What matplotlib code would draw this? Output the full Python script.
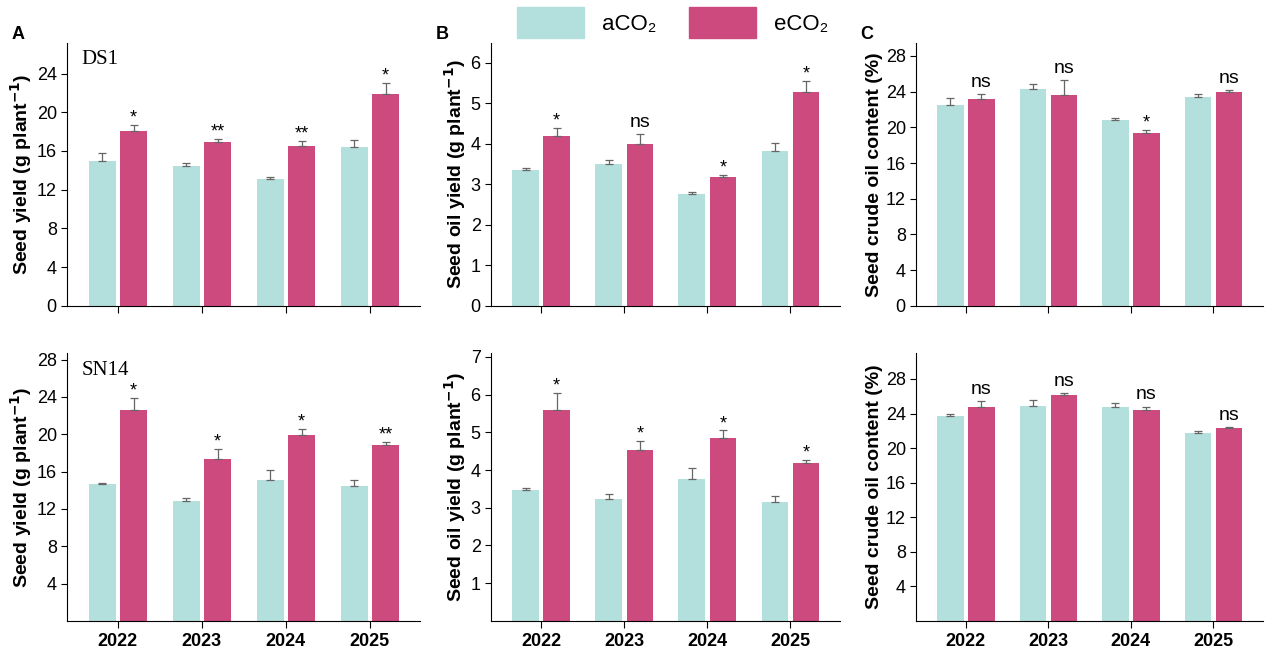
import matplotlib.pyplot as plt
import numpy as np
from matplotlib.patches import Patch

plt.rcParams['font.family'] = ['Liberation Sans', 'DejaVu Sans']

years = ['2022', '2023', '2024', '2025']
c_a = '#b3dfdc'
c_e = '#cd4a7f'

# top row (DS1)
yield_a_ds1 = [15.0, 14.4, 13.1, 16.4]
yield_a_ds1_err = [0.8, 0.4, 0.25, 0.7]
yield_e_ds1 = [18.1, 16.9, 16.5, 21.9]
yield_e_ds1_err = [0.6, 0.3, 0.5, 1.1]
yield_sig_ds1 = ['*', '**', '**', '*']

oil_a_ds1 = [3.35, 3.5, 2.75, 3.83]
oil_a_ds1_err = [0.05, 0.1, 0.07, 0.2]
oil_e_ds1 = [4.2, 4.0, 3.18, 5.28]
oil_e_ds1_err = [0.2, 0.25, 0.06, 0.27]
oil_sig_ds1 = ['*', 'ns', '*', '*']

crude_a_ds1 = [22.5, 24.3, 20.8, 23.4]
crude_a_ds1_err = [0.8, 0.6, 0.3, 0.3]
crude_e_ds1 = [23.2, 23.6, 19.4, 24.0]
crude_e_ds1_err = [0.5, 1.7, 0.3, 0.15]
crude_sig_ds1 = ['ns', 'ns', '*', 'ns']

# bottom row (SN14)
yield_a_sn14 = [14.7, 12.9, 15.1, 14.5]
yield_a_sn14_err = [0.1, 0.3, 1.1, 0.6]
yield_e_sn14 = [22.6, 17.4, 19.9, 18.8]
yield_e_sn14_err = [1.3, 1.0, 0.7, 0.4]
yield_sig_sn14 = ['*', '*', '*', '**']

oil_a_sn14 = [3.47, 3.22, 3.75, 3.15]
oil_a_sn14_err = [0.05, 0.15, 0.3, 0.15]
oil_e_sn14 = [5.6, 4.52, 4.85, 4.18]
oil_e_sn14_err = [0.45, 0.25, 0.2, 0.08]
oil_sig_sn14 = ['*', '*', '*', '*']

crude_a_sn14 = [23.7, 24.9, 24.8, 21.8]
crude_a_sn14_err = [0.2, 0.7, 0.4, 0.2]
crude_e_sn14 = [24.8, 26.1, 24.4, 22.3]
crude_e_sn14_err = [0.6, 0.3, 0.4, 0.15]
crude_sig_sn14 = ['ns', 'ns', 'ns', 'ns']

fig = plt.figure(figsize=(12.69, 6.55), dpi=100)
lefts = [0.053, 0.387, 0.722]
widths = [0.278, 0.275, 0.273]
rows = [(0.533, 0.402), (0.052, 0.409)]


def panel(ax, a, ae, e, ee, sig, ylim, ticks, ylabel, bottom_row):
    x = np.arange(len(years))
    w = 0.32
    ax.bar(x - 0.185, a, w, color=c_a, yerr=[[0] * 4, ae], capsize=3,
           error_kw=dict(ecolor='#666666', elinewidth=0.9, capthick=0.9))
    ax.bar(x + 0.19, e, w, color=c_e, yerr=[[0] * 4, ee], capsize=3,
           error_kw=dict(ecolor='#666666', elinewidth=0.9, capthick=0.9))
    off = (ylim[1] - ylim[0]) * 0.012
    for i in range(4):
        top = e[i] + ee[i] + off
        if sig[i] == 'ns':
            ax.text(x[i] + 0.19, top, 'ns', ha='center', va='bottom', fontsize=14)
        else:
            ax.text(x[i] + 0.19, top - off * 1.5, sig[i], ha='center', va='bottom', fontsize=13)
    ax.set_xlim(-0.6, 3.6)
    ax.set_ylim(*ylim)
    ax.set_yticks(ticks)
    ax.tick_params(axis='y', labelsize=13, length=4)
    ax.tick_params(axis='x', length=5, labelsize=13)
    ax.set_xticks(x)
    if bottom_row:
        ax.set_xticklabels(years, fontweight='bold')
    else:
        ax.set_xticklabels([])
    ax.spines['top'].set_visible(False)
    ax.spines['right'].set_visible(False)
    ax.set_ylabel(ylabel, fontsize=14, fontweight='bold', labelpad=2)


data = [
    [(yield_a_ds1, yield_a_ds1_err, yield_e_ds1, yield_e_ds1_err, yield_sig_ds1, (0, 27.2), range(0, 25, 4)),
     (oil_a_ds1, oil_a_ds1_err, oil_e_ds1, oil_e_ds1_err, oil_sig_ds1, (0, 6.5), range(0, 7)),
     (crude_a_ds1, crude_a_ds1_err, crude_e_ds1, crude_e_ds1_err, crude_sig_ds1, (0, 29.5), range(0, 29, 4))],
    [(yield_a_sn14, yield_a_sn14_err, yield_e_sn14, yield_e_sn14_err, yield_sig_sn14, (0, 28.7), range(4, 29, 4)),
     (oil_a_sn14, oil_a_sn14_err, oil_e_sn14, oil_e_sn14_err, oil_sig_sn14, (0, 7.1), range(1, 8)),
     (crude_a_sn14, crude_a_sn14_err, crude_e_sn14, crude_e_sn14_err, crude_sig_sn14, (0, 31), range(4, 29, 4))],
]
ylabels = ['Seed yield (g plant$^{\\mathbf{-1}}$)', 'Seed oil yield (g plant$^{\\mathbf{-1}}$)',
           'Seed crude oil content (%)']

for r, (b, h) in enumerate(rows):
    for c in range(3):
        ax = fig.add_axes([lefts[c], b, widths[c], h])
        panel(ax, *data[r][c], ylabels[c], r == 1)
        if c == 0:
            ax.text(0.04, 0.97, ['DS1', 'SN14'][r], transform=ax.transAxes,
                    family='Liberation Serif', fontsize=15, va='top')
        if r == 0:
            fig.text(lefts[c] - 0.044, 0.94, 'ABC'[c], fontsize=13, fontweight='bold')

handles = [Patch(color=c_a, label='aCO₂'), Patch(color=c_e, label='eCO₂')]
fig.legend(handles=handles, loc='upper center', bbox_to_anchor=(0.53, 1.02), ncol=2,
           frameon=False, fontsize=16, handlelength=3.0, handleheight=1.8, columnspacing=1.5)

fig.savefig('out.png', dpi=100)
